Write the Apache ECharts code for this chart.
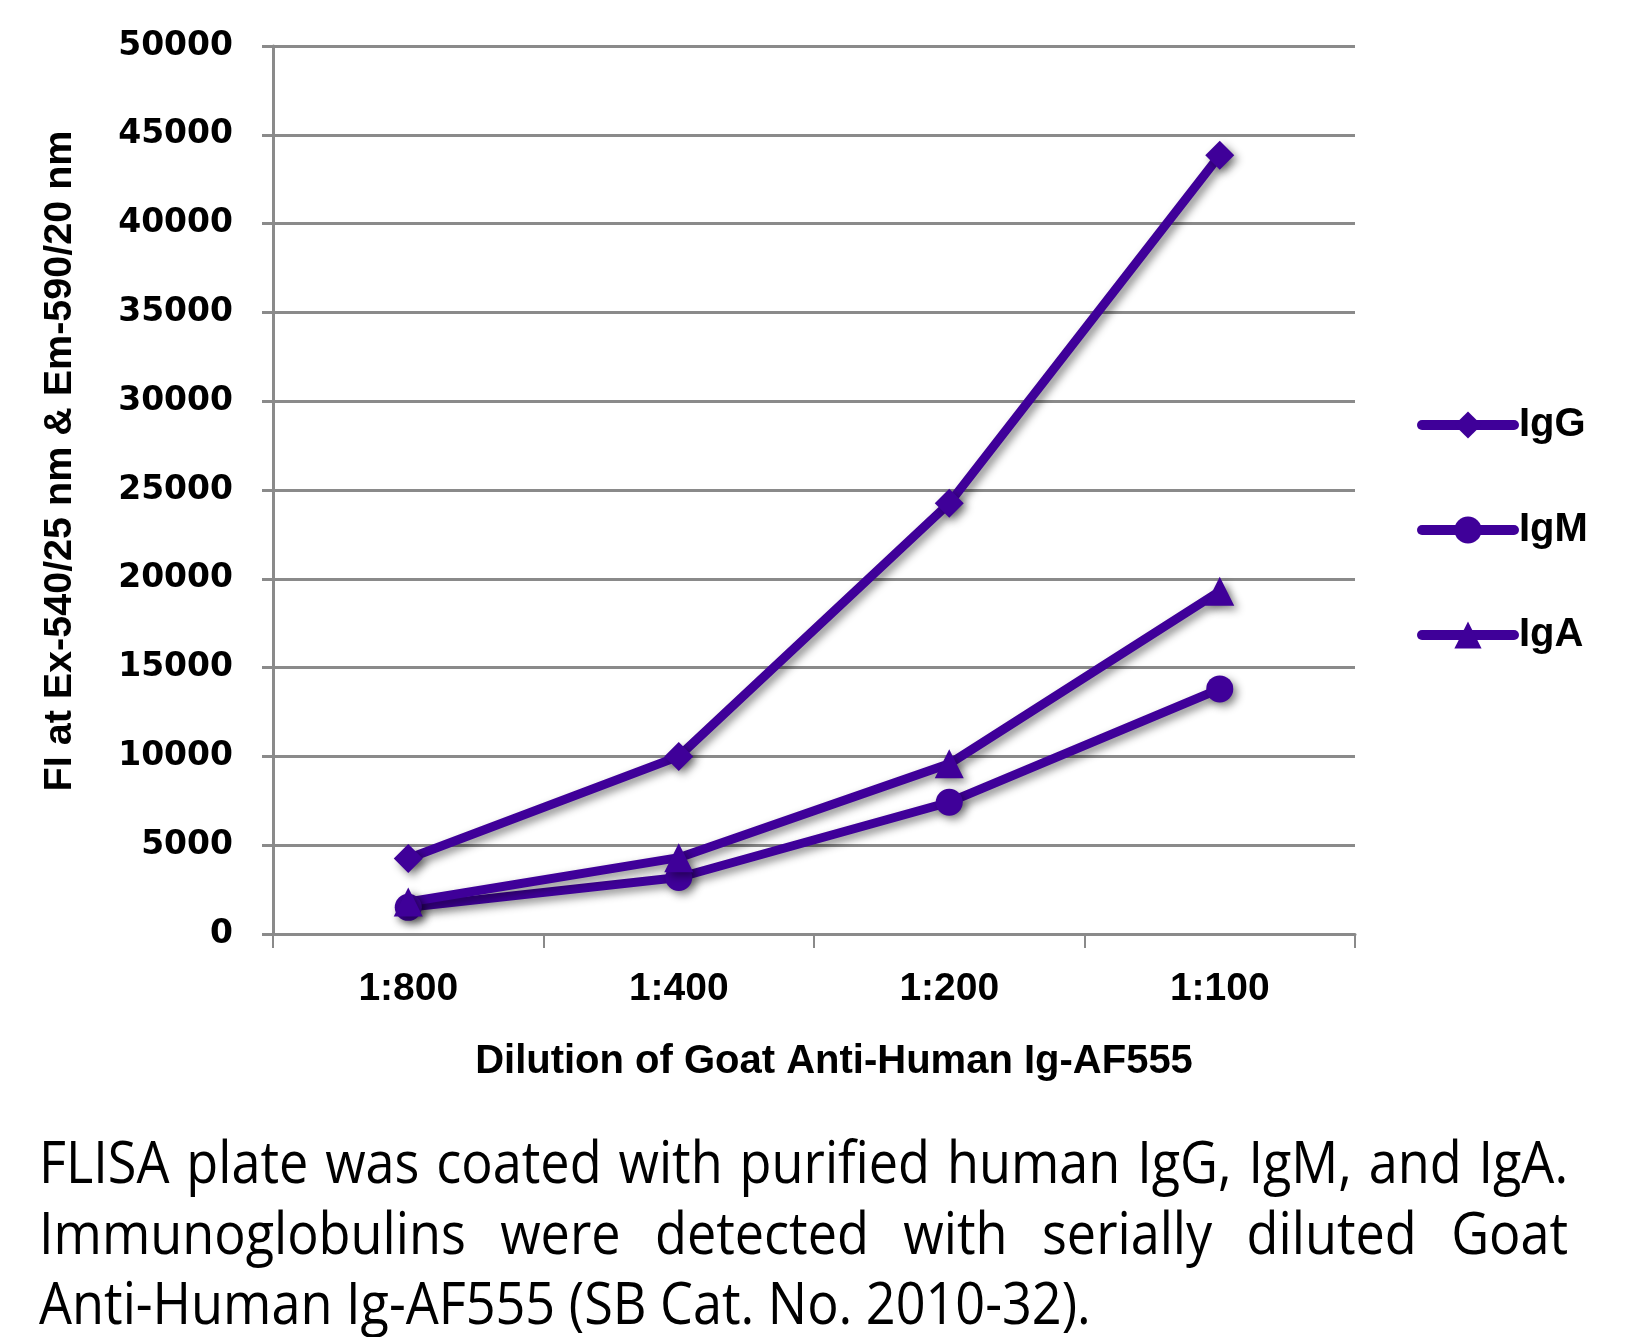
<!DOCTYPE html>
<html>
<head>
<meta charset="utf-8">
<script src="https://cdn.jsdelivr.net/npm/echarts@6/dist/echarts.min.js"></script>
<style>
  html, body { margin: 0; padding: 0; background: #fff; }
  #wrap { position: relative; width: 1626px; height: 1337px; overflow: hidden; }
  #chart { position: absolute; left: 0; top: 0; width: 1626px; height: 1337px; }
  #caption { position: absolute; left: 39px; top: 1126px; width: 1699px;
    transform: scaleX(0.9); transform-origin: 0 0;
    font-family: "Open Sans", sans-serif; font-size: 58px; line-height: 70.5px; color: #000; }
  #caption div { white-space: nowrap; }
  #caption .j { text-align: justify; text-align-last: justify; }
</style>
</head>
<body>
<div id="wrap">
  <div id="chart"></div>
  <div id="caption">
    <div class="j">FLISA plate was coated with purified human IgG, IgM, and IgA.</div>
    <div class="j">Immunoglobulins were detected with serially diluted Goat</div>
    <div>Anti-Human Ig-AF555 (SB Cat. No. 2010-32).</div>
  </div>
</div>
<script>
const categories = ['1:800', '1:400', '1:200', '1:100'];
const seriesNames = ['IgG', 'IgM', 'IgA'];
const igG = [4250, 10000, 24250, 43850];
const igM = [1500, 3180, 7420, 13800];
const igA = [1800, 4300, 9580, 19300];
const yTicks = { min: 0, max: 50000, interval: 5000 };
const xTitle = 'Dilution of Goat Anti-Human Ig-AF555';
const yTitle = 'FI at Ex-540/25 nm & Em-590/20 nm';

const purple = '#3f0099';
const gridGray = '#8a8a8a';

function mkSeries(name, data, symbol, size) {
  return {
    name: name, type: 'line', data: data,
    symbol: symbol, symbolSize: size,
    lineStyle: { color: purple, width: 9, cap: 'round',
      shadowColor: 'rgba(0,0,0,0.45)', shadowBlur: 8, shadowOffsetX: 4, shadowOffsetY: 4 },
    itemStyle: { color: purple, borderWidth: 0,
      shadowColor: 'rgba(0,0,0,0.45)', shadowBlur: 8, shadowOffsetX: 4, shadowOffsetY: 4 },
    emphasis: { disabled: true },
    z: 3
  };
}

const chart = echarts.init(document.getElementById('chart'), null, { renderer: 'canvas' });
chart.setOption({
  animation: false,
  backgroundColor: '#fff',
  grid: { left: 273, right: 271, top: 46, bottom: 403, containLabel: false },
  legend: {
    orient: 'vertical', left: 1412, top: 400,
    itemWidth: 92, itemHeight: 34, itemGap: 65,
    data: seriesNames,
    textStyle: { fontFamily: 'Liberation Sans', fontWeight: 'bold', fontSize: 40, color: '#000' },
    lineStyle: { width: 10, color: purple, shadowBlur: 0, shadowColor: 'transparent' },
    itemStyle: { shadowBlur: 0, shadowColor: 'transparent' }
  },
  xAxis: {
    type: 'category', data: categories, boundaryGap: true,
    name: xTitle, nameLocation: 'middle', nameGap: 108,
    nameTextStyle: { fontFamily: 'Liberation Sans', fontWeight: 'bold', fontSize: 40, color: '#000', padding: [0, 0, 0, 40] },
    axisLine: { lineStyle: { color: gridGray, width: 3 } },
    axisTick: { show: true, length: 14, lineStyle: { color: gridGray, width: 2 } },
    axisLabel: { margin: 36, fontFamily: 'Liberation Sans', fontWeight: 'bold', fontSize: 39, color: '#000' },
    splitLine: { show: false }
  },
  yAxis: {
    type: 'value', min: yTicks.min, max: yTicks.max, interval: yTicks.interval,
    name: yTitle, nameLocation: 'middle', nameGap: 193, nameRotate: 90,
    nameTextStyle: { fontFamily: 'Liberation Sans', fontWeight: 'bold', fontSize: 39.5, color: '#000', padding: [0, 0, 0, 58] },
    axisLine: { show: true, lineStyle: { color: gridGray, width: 3 } },
    axisTick: { show: true, length: 11, lineStyle: { color: gridGray, width: 3 } },
    axisLabel: { margin: 40, fontFamily: 'DejaVu Sans', fontWeight: 'bold', fontSize: 33, color: '#000',
      formatter: function (v) { return String(v); } },
    splitLine: { show: true, lineStyle: { color: gridGray, width: 3 } }
  },
  series: [
    mkSeries('IgG', igG, 'diamond', 29),
    mkSeries('IgM', igM, 'circle', 27),
    mkSeries('IgA', igA, 'triangle', 29)
  ]
});
</script>
</body>
</html>
